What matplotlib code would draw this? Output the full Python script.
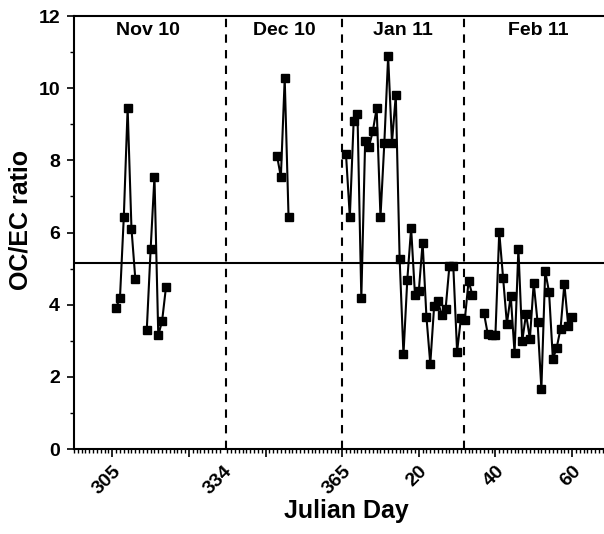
import numpy as np
import matplotlib.pyplot as plt
from matplotlib.ticker import MultipleLocator

# Julian days (Nov/Dec 2010 as 3xx, Jan/Feb 2011 as 1..60)
nov_a_day = [306, 307, 308, 309, 310, 311]
nov_a_ratio = [3.92, 4.19, 6.43, 9.45, 6.11, 4.72]
nov_b_day = [314, 315, 316, 317, 318, 319]
nov_b_ratio = [3.31, 5.53, 7.55, 3.15, 3.55, 4.48]
dec_day = [348, 349, 350, 351]
dec_ratio = [8.12, 7.54, 10.27, 6.44]
jan_day = list(range(1, 35))
jan_ratio = [8.17, 6.43, 9.09, 9.28, 4.18, 8.54, 8.38, 8.81, 9.44, 6.43,
             8.47, 10.88, 8.49, 9.81, 5.27, 2.62, 4.69, 6.12, 4.28, 4.37,
             5.72, 3.66, 2.36, 3.95, 4.09, 3.70, 3.88, 5.08, 5.08, 2.70,
             3.63, 3.57, 4.66, 4.26]
feb_day = list(range(37, 61))
feb_ratio = [3.77, 3.19, 3.17, 3.16, 6.01, 4.75, 3.47, 4.25, 2.66, 5.55,
             2.99, 3.74, 3.05, 4.60, 3.52, 1.67, 4.93, 4.35, 2.49, 2.81,
             3.33, 4.58, 3.42, 3.66]

mean_ratio = 5.15
month_bounds = [334.6, 365, 396.8]
month_names = ["Nov 10", "Dec 10", "Jan 11", "Feb 11"]
month_pos = [314.4, 349.8, 380.9, 416.1]

tick_pos = [305, 325, 334, 345, 365, 385, 405, 425]
tick_lab = ["305", "", "334", "", "365", "20", "40", "60"]

plt.rcParams['font.family'] = ['Liberation Sans', 'DejaVu Sans']
plt.rcParams['font.weight'] = 'bold'

fig = plt.figure(figsize=(6.04, 5.34), dpi=100)
ax = fig.add_axes([74 / 604, 1 - 449 / 534, (618 - 74) / 604, (449 - 16) / 534])

style = dict(color='black', marker='s', markersize=6, linewidth=1.5)
ax.plot(nov_a_day, nov_a_ratio, **style)
ax.plot(nov_b_day, nov_b_ratio, **style)
ax.plot(dec_day, dec_ratio, **style)
ax.plot(np.array(jan_day) + 365, jan_ratio, **style)
ax.plot(np.array(feb_day) + 365, feb_ratio, **style)

ax.axhline(mean_ratio, color='black', linewidth=1.5)
for b in month_bounds:
    ax.axvline(b, color='black', linewidth=1.5, linestyle=(0, (4, 3.5)))

for name, x in zip(month_names, month_pos):
    ax.text(x, 11.6, name, ha='center', va='center', fontsize=14, fontweight='bold')

ax.set_xlim(295, 437)
ax.set_ylim(0, 12)

ax.set_xticks(tick_pos)
ax.set_xticklabels(tick_lab, rotation=45, ha='right', va='top', rotation_mode='anchor')
ax.xaxis.set_minor_locator(MultipleLocator(1))
ax.get_xticklines()[4].set_visible(False)  # no outward major tick at 334
ax.yaxis.set_major_locator(MultipleLocator(2))
ax.yaxis.set_minor_locator(MultipleLocator(1))

ax.tick_params(axis='both', which='major', labelsize=14, width=1.2, direction='out')
ax.tick_params(axis='x', which='major', length=6, pad=4)
ax.tick_params(axis='y', which='major', length=5, pad=5)
ax.tick_params(axis='both', which='minor', length=3, width=1.0, direction='out')
for lab in ax.get_xticklabels() + ax.get_yticklabels():
    lab.set_fontweight('bold')

for s in ['left', 'bottom', 'top']:
    ax.spines[s].set_linewidth(1.5)
ax.spines['right'].set_visible(False)

ax.set_xlabel("Julian Day", fontsize=18, fontweight='bold', va='top')
ax.xaxis.set_label_coords(0.5, -0.1155)
ax.set_ylabel("OC/EC ratio", fontsize=18, fontweight='bold')
ax.yaxis.set_label_coords(-0.077, 0.53)

fig.savefig("out.png", dpi=100)
